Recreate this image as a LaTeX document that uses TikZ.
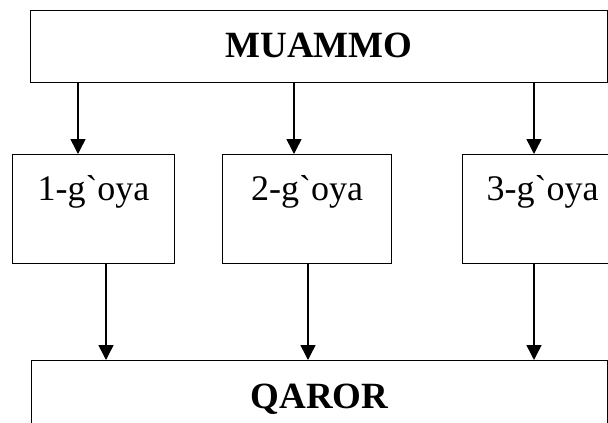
\documentclass[tikz,border=0pt]{standalone}
\usepackage{fontspec}
\setmainfont{Liberation Serif}[Ligatures=TeXOff]
\usetikzlibrary{arrows.meta}
\begin{document}
\begin{tikzpicture}[x=1pt,y=-1pt,
  box/.style={draw, line width=1pt, rectangle, inner xsep=0pt, inner ysep=0pt, font=\fontsize{36}{40}\selectfont},
  bigbox/.style={box, font=\fontsize{37}{40}\selectfont\bfseries},
  arr/.style={line width=1.5pt, -{Triangle[width=15pt,length=15pt]}}]
\useasboundingbox (0,0) rectangle (608,423);
\clip (0,0) rectangle (608,423);
\node[bigbox, anchor=north west, minimum width=577pt, text height=47pt, text depth=25pt] (top) at (30,10) {MUAMMO};
\node[box, anchor=north west, minimum width=162pt, text height=46pt, text depth=63pt] (b1) at (12,154) {1-g`oya};
\node[box, anchor=north west, minimum width=169pt, text height=46pt, text depth=63pt] (b2) at (222,154) {2-g`oya};
\node[box, anchor=north west, minimum width=160pt, text height=46pt, text depth=63pt] (b3) at (462,154) {3-g`oya};
\node[bigbox, anchor=north west, minimum width=576pt, text height=48pt, text depth=60pt] (bot) at (31,360) {QAROR};
\coordinate (u1) at (78,0);
\coordinate (u2) at (294,0);
\coordinate (u3) at (534,0);
\coordinate (d1) at (106,0);
\coordinate (d2) at (308,0);
\coordinate (d3) at (534,0);
\draw[arr] (top.south -| u1) -- (b1.north -| u1);
\draw[arr] (top.south -| u2) -- (b2.north -| u2);
\draw[arr] (top.south -| u3) -- (b3.north -| u3);
\draw[arr] (b1.south -| d1) -- (bot.north -| d1);
\draw[arr] (b2.south -| d2) -- (bot.north -| d2);
\draw[arr] (b3.south -| d3) -- (bot.north -| d3);
\end{tikzpicture}
\end{document}
